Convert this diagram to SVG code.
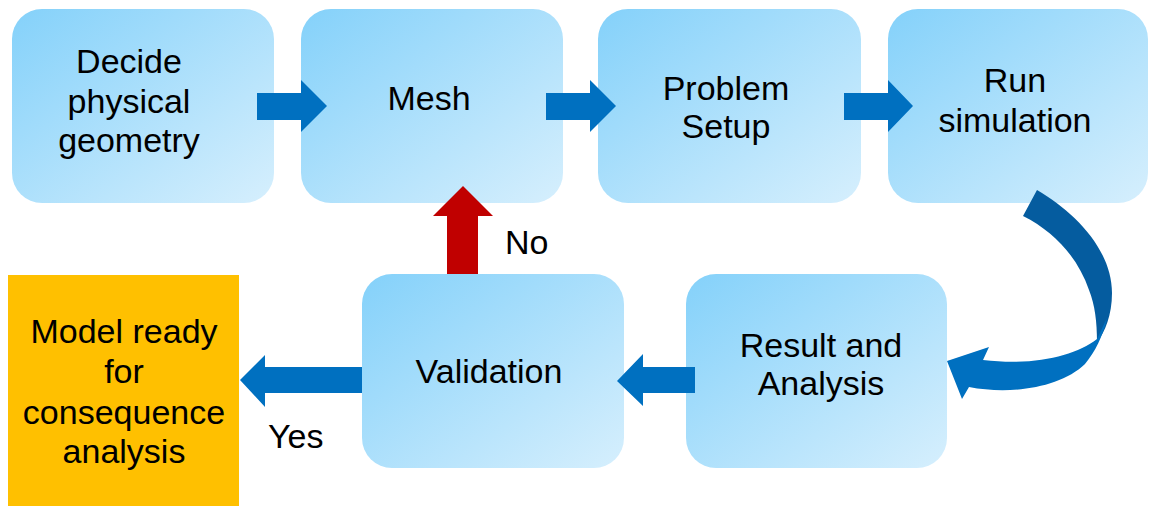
<svg xmlns="http://www.w3.org/2000/svg" width="1150" height="506" viewBox="0 0 1150 506">
  <defs>
    <linearGradient id="boxFill" x1="0" y1="0" x2="1" y2="1">
      <stop offset="0" stop-color="#84D1FA"/>
      <stop offset="1" stop-color="#D6EFFD"/>
    </linearGradient>
  </defs>
  <style>
    .box { fill: url(#boxFill); }
    .done { fill: #FFC000; }
    .lbl { font-family: "Liberation Sans", Arial, sans-serif; font-size: 34px; fill: #000; text-anchor: middle; }
    .note { font-family: "Liberation Sans", Arial, sans-serif; font-size: 34px; fill: #000; }
    .blk { fill: #0070C0; }
    .blkDark { fill: #055C9F; }
    .red { fill: #C00000; }
  </style>

  <!-- process steps -->
  <g id="node-geometry">
    <rect class="box" x="12" y="9" width="262" height="194" rx="30"/>
    <text class="lbl" x="129" y="73">Decide</text>
    <text class="lbl" x="129" y="113">physical</text>
    <text class="lbl" x="129" y="152">geometry</text>
  </g>
  <g id="node-mesh">
    <rect class="box" x="301" y="9" width="262" height="194" rx="30"/>
    <text class="lbl" x="429" y="110">Mesh</text>
  </g>
  <g id="node-setup">
    <rect class="box" x="598" y="9" width="263" height="194" rx="30"/>
    <text class="lbl" x="726" y="100">Problem</text>
    <text class="lbl" x="726" y="138">Setup</text>
  </g>
  <g id="node-run">
    <rect class="box" x="888" y="9" width="260" height="194" rx="30"/>
    <text class="lbl" x="1015" y="92">Run</text>
    <text class="lbl" x="1015" y="132">simulation</text>
  </g>
  <g id="node-result">
    <rect class="box" x="686" y="274" width="261" height="194" rx="30"/>
    <text class="lbl" x="821" y="357">Result and</text>
    <text class="lbl" x="821" y="395">Analysis</text>
  </g>
  <g id="node-validation">
    <rect class="box" x="362" y="274" width="262" height="194" rx="30"/>
    <text class="lbl" x="489" y="383">Validation</text>
  </g>
  <g id="node-ready">
    <rect class="done" x="8" y="275" width="231" height="231"/>
    <text class="lbl" x="124" y="343">Model ready</text>
    <text class="lbl" x="124" y="383">for</text>
    <text class="lbl" x="124" y="424">consequence</text>
    <text class="lbl" x="124" y="463">analysis</text>
  </g>

  <!-- connectors -->
  <g id="connectors">
    <polygon class="blk" points="257,93 301,93 301,80 327,106 301,132 301,120 257,120"/>
    <polygon class="blk" points="546,93 590,93 590,80 616,106 590,132 590,120 546,120"/>
    <polygon class="blk" points="844,93 888,93 888,80 913,106 888,132 888,120 844,120"/>
    <!-- curved return from simulation to results -->
    <path class="blkDark" d="M1037,190 C1075,212 1112,250 1112,293 C1112,315 1105,332 1097,342 C1097,322 1095,305 1089,290 C1078,258 1055,232 1023,216 Z"/>
    <path class="blk" d="M1097,339 C1075,356 1035,366 983,360 L989,347 L947,361 L962,399 L969,387 C1010,395 1060,388 1085,364 C1095,352 1103,336 1107,318 Z"/>
    <polygon class="blk" points="695,367 643,367 643,354 617,381 643,406 643,393 695,393"/>
    <polygon class="blk" points="362,367 265,367 265,355 240,380 265,407 265,393 362,393"/>
    <polygon class="red" points="447,274 447,216 433,216 463,186 493,216 478,216 478,274"/>
    <text class="note" x="505" y="254">No</text>
    <text class="note" x="268" y="448">Yes</text>
  </g>
</svg>
